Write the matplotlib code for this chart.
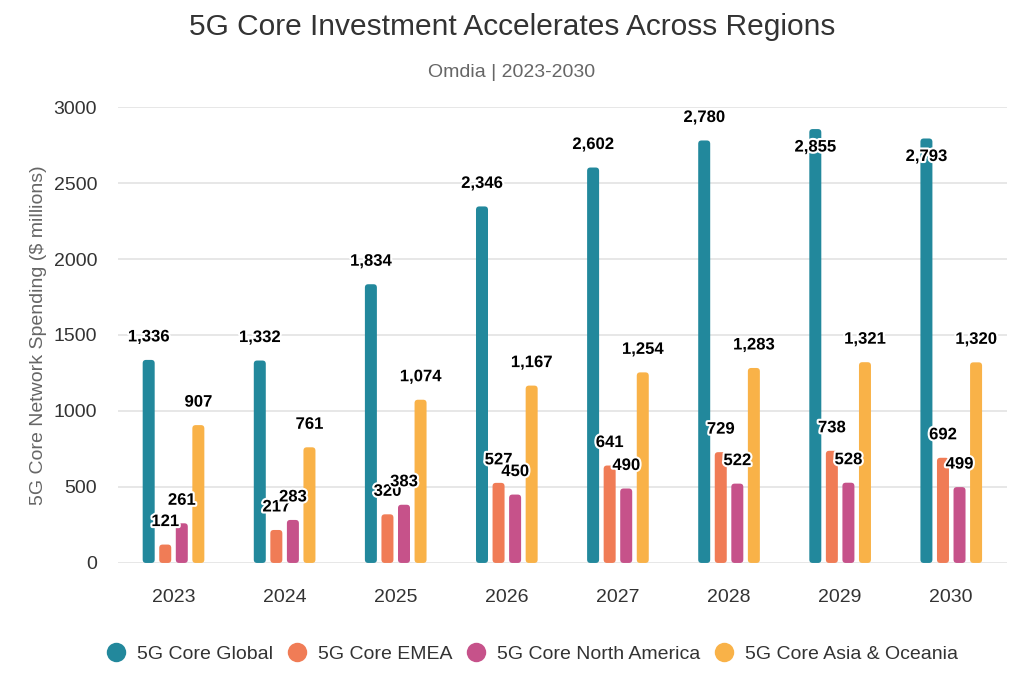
import matplotlib
matplotlib.use('Agg')
import matplotlib.pyplot as plt
import matplotlib.patheffects as pe
from matplotlib.patches import FancyBboxPatch
from matplotlib.lines import Line2D
import numpy as np

plt.rcParams['font.family'] = ['Liberation Sans', 'DejaVu Sans']

years = ['2023', '2024', '2025', '2026', '2027', '2028', '2029', '2030']
series_names = ['5G Core Global', '5G Core EMEA', '5G Core North America', '5G Core Asia & Oceania']
global_vals = [1336, 1332, 1834, 2346, 2602, 2780, 2855, 2793]
emea_vals = [121, 217, 320, 527, 641, 729, 738, 692]
na_vals = [261, 283, 383, 450, 490, 522, 528, 499]
asia_vals = [907, 761, 1074, 1167, 1254, 1283, 1321, 1320]
colors = ['#22889c', '#f07c56', '#c6528a', '#f9b248']

all_series = [global_vals, emea_vals, na_vals, asia_vals]

fig = plt.figure(figsize=(10.24, 6.95), dpi=100)
ax = fig.add_axes([0.1152, 0.19, 0.868, 0.656])

x = np.arange(len(years))
step = 0.149
width = 0.108
ax.set_xlim(-0.5, len(years) - 0.5)
ax.set_ylim(0, 3000)

# rounding: ~3px each way
aspect = (3000 / 456) / (8 / 889)
for i, vals in enumerate(all_series):
    offs = (i - 1.5) * step
    for xi, v in zip(x, vals):
        p = FancyBboxPatch((xi + offs - width / 2, 0), width, v,
                           boxstyle='round,pad=0,rounding_size=0.03',
                           mutation_aspect=aspect,
                           fc=colors[i], ec='none', zorder=3)
        ax.add_patch(p)
        # labels near the top of the axis go inside the bar
        if v > 2785:
            dy = -18
        else:
            dy = 23
        ax.annotate(f'{v:,}', (xi + offs, v), xytext=(0, dy * 0.72),
                    textcoords='offset points', ha='center', va='center',
                    fontsize=12, fontweight='bold', color='black', zorder=5,
                    path_effects=[pe.withStroke(linewidth=3, foreground='white')])

ax.set_yticks(np.arange(0, 3001, 500))
ax.set_xticks(x)
ax.set_xticklabels(years)
ax.grid(axis='y', color='#e3e3e3', linewidth=1.2, zorder=0)
ax.set_axisbelow(True)
for s in ax.spines.values():
    s.set_visible(False)
ax.tick_params(axis='both', length=0, labelsize=14, colors='#333333')
ax.tick_params(axis='x', pad=19)
ax.tick_params(axis='y', pad=15)
ax.set_ylabel('5G Core Network Spending ($ millions)', fontsize=14, color='#666666', labelpad=5)

fig.text(0.5, 0.961, '5G Core Investment Accelerates Across Regions', ha='center', va='center',
         fontsize=21.5, color='#333333')
fig.text(0.5, 0.896, 'Omdia | 2023-2030', ha='center', va='center', fontsize=14, color='#666666')

handles = [Line2D([], [], marker='o', ls='none', markersize=14, markerfacecolor=c,
                  markeredgecolor='none') for c in colors]
fig.legend(handles, series_names, loc='center', bbox_to_anchor=(0.515, 0.059), ncol=4,
           frameon=False, fontsize=14, handletextpad=0.05, columnspacing=0.25,
           labelcolor='#333333')

fig.savefig('out.png', dpi=100)
